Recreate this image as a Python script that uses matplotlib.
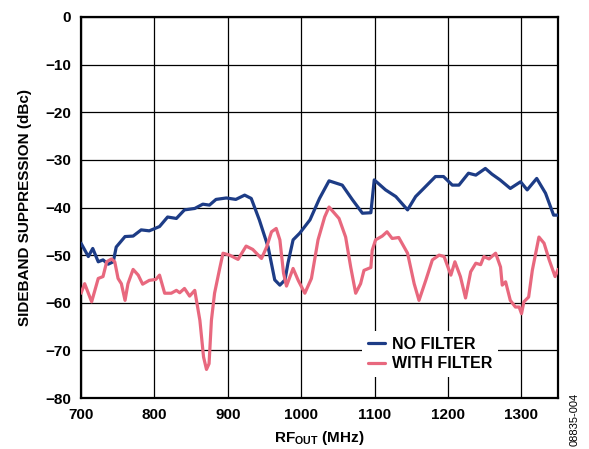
import matplotlib
matplotlib.use("Agg")
import matplotlib.pyplot as plt

plt.rcParams['font.family'] = ['Liberation Sans', 'DejaVu Sans']
plt.rcParams['font.weight'] = 'bold'
plt.rcParams['mathtext.fontset'] = 'custom'
plt.rcParams['mathtext.bf'] = 'Liberation Sans:bold'
plt.rcParams['mathtext.rm'] = 'Liberation Sans:bold'
plt.rcParams['mathtext.default'] = 'bf'

no_filter_x = [700, 710, 716, 723.5, 730, 737, 744, 748, 760, 771, 782, 793, 807, 818, 830, 841, 855,
               866, 875, 884, 898, 911, 923, 932, 943, 955, 964, 971, 978, 982, 989, 998, 1012, 1025,
               1038, 1056, 1070, 1083.5, 1095, 1099.6, 1115, 1129, 1145, 1156, 1167, 1183, 1194, 1206,
               1215, 1228, 1238, 1251, 1260, 1271, 1285, 1299, 1308, 1321, 1333, 1344, 1350]
no_filter_y = [-47.5, -50.3, -48.6, -51.4, -51.0, -51.9, -51.4, -48.3, -46.1, -46.0, -44.7, -44.9, -44.0,
               -42.0, -42.3, -40.5, -40.2, -39.3, -39.5, -38.3, -38.0, -38.3, -37.4, -38.1, -42.6, -48.3,
               -55.2, -56.3, -55.2, -51.7, -46.8, -45.4, -42.6, -38.1, -34.4, -35.3, -38.4, -41.2, -41.1,
               -34.2, -36.3, -37.7, -40.5, -37.7, -36.0, -33.5, -33.5, -35.3, -35.3, -32.8, -33.2, -31.8,
               -33.0, -34.2, -36.0, -34.6, -36.3, -33.9, -37.0, -41.6, -41.6]

with_filter_x = [700, 705, 714.5, 723.5, 730, 735, 741.5, 746, 750.5, 755, 760, 764, 771, 778, 784, 793,
                 802, 807, 814, 823, 830, 834.5, 841, 848, 855, 862, 867, 871, 874.5, 877.7, 882, 889,
                 893.5, 902.5, 914, 925, 934, 946, 953, 959.6, 966, 971, 976, 980, 989, 996, 1005, 1014,
                 1023, 1032, 1038, 1051.6, 1060.6, 1067.5, 1074.3, 1081, 1085.6, 1095, 1096.8, 1101.4,
                 1110.5, 1117, 1124, 1133, 1145, 1154, 1160.6, 1169.8, 1178.8, 1188, 1194.8, 1204, 1209.5,
                 1217, 1224, 1231, 1238, 1244.6, 1249, 1256, 1265, 1271.7, 1274, 1278.6, 1285, 1292, 1297,
                 1300.3, 1303.5, 1310, 1315, 1324, 1331, 1338, 1346, 1350]
with_filter_y = [-58.0, -56.0, -59.8, -54.9, -54.5, -51.4, -50.8, -51.4, -54.9, -56.0, -59.5, -56.0, -53.0,
                 -54.2, -56.1, -55.3, -55.1, -54.2, -58.0, -58.0, -57.4, -57.9, -57.0, -58.6, -57.4, -63.7,
                 -71.4, -74.0, -72.8, -63.7, -58.0, -52.8, -49.6, -50.0, -50.9, -48.1, -48.8, -50.7, -48.3,
                 -45.1, -44.4, -46.8, -53.8, -56.5, -52.8, -55.3, -58.0, -54.9, -46.8, -42.0, -39.9, -42.3,
                 -46.2, -52.5, -58.0, -56.0, -53.2, -52.6, -49.0, -46.8, -46.0, -45.1, -46.5, -46.3, -49.6,
                 -56.0, -59.5, -55.3, -51.0, -50.0, -50.3, -54.2, -51.4, -54.5, -59.0, -53.5, -51.7, -52.0,
                 -50.3, -50.8, -49.6, -52.5, -56.3, -55.6, -59.5, -60.9, -60.9, -62.3, -59.8, -58.8, -53.2,
                 -46.2, -47.5, -51.0, -54.5, -53.0]

x_ticks = [700, 800, 900, 1000, 1100, 1200, 1300]
y_ticks = [0, -10, -20, -30, -40, -50, -60, -70, -80]
y_tick_labels = ['0', '\u221210', '\u221220', '\u221230', '\u221240', '\u221250', '\u221260', '\u221270', '\u221280']

fig = plt.figure(figsize=(5.89, 4.49), dpi=100)
ax = fig.add_axes([81/589, 1-398/449, (558-81)/589, (398-17)/449])

navy = '#1d3c86'
pink = '#e8687e'
ax.plot(no_filter_x, no_filter_y, color=navy, lw=2.3, label='NO FILTER', zorder=3,
        solid_joinstyle='round', solid_capstyle='round')
ax.plot(with_filter_x, with_filter_y, color=pink, lw=2.3, label='WITH FILTER', zorder=3,
        solid_joinstyle='round', solid_capstyle='round')

ax.set_xlim(700, 1350)
ax.set_ylim(-80, 0)
ax.set_xticks(x_ticks)
ax.set_yticks(y_ticks)
ax.set_yticklabels(y_tick_labels)
ax.tick_params(axis='x', length=0, labelsize=11, pad=7)
ax.tick_params(axis='y', length=0, labelsize=11, pad=7)
for lab in ax.get_xticklabels() + ax.get_yticklabels():
    lab.set_fontweight('bold')
ax.grid(True, color='black', lw=0.9, zorder=1)
ax.set_axisbelow(True)
for s in ax.spines.values():
    s.set_linewidth(1.6)
    s.set_color('black')

ax.set_xlabel(r'RF$_{\mathbf{OUT}}$ (MHz)', fontsize=11, fontweight='bold', labelpad=5)
ax.set_ylabel('SIDEBAND SUPPRESSION (dBc)', fontsize=11, fontweight='bold', labelpad=10)

leg = ax.legend(loc='upper left', bbox_to_anchor=((354-81)/477, 1-(323-17)/381), frameon=True,
                fancybox=False, edgecolor='none', facecolor='white', framealpha=1,
                fontsize=11.5, handlelength=1.1, handletextpad=0.45, borderpad=0.35, labelspacing=0.3)
for t in leg.get_texts():
    t.set_fontweight('bold')
leg.set_zorder(5)

fig.text(575/589, 1-419/449, '08835-004', rotation=90, fontsize=8, fontweight='normal',
         ha='center', va='center')

fig.savefig('out.png', dpi=100)
